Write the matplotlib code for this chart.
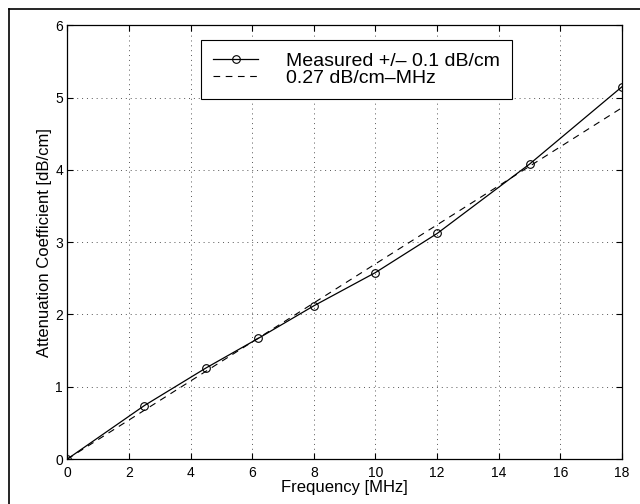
import numpy as np
import matplotlib
matplotlib.use('Agg')
import matplotlib.pyplot as plt
from matplotlib.lines import Line2D

plt.rcParams['font.family'] = ['Liberation Sans', 'DejaVu Sans']

# measured attenuation
freq = [0, 2.5, 4.5, 6.2, 8, 10, 12, 15, 18]
atten = [0, 0.74, 1.26, 1.67, 2.12, 2.58, 3.12, 4.08, 5.15]
# linear fit, 0.27 dB/cm-MHz
slope = 0.27
fit_freq = [0, 18]

fig = plt.figure(figsize=(6.4, 5.04), dpi=100)
ax = fig.add_axes([0.105, 0.089, 0.867, 0.861])

ax.plot(freq, atten, color='black', linewidth=0.9, marker='o', markersize=5.5,
        markerfacecolor='none', markeredgewidth=0.8,
        label='Measured +/\u2013 0.1 dB/cm')
ax.plot(fit_freq, [slope * f for f in fit_freq], color='black', linewidth=0.8,
        linestyle=(0, (6, 5)), label='0.27 dB/cm\u2013MHz')

ax.set_xlim(0, 18)
ax.set_ylim(0, 6)
ax.set_xticks(np.arange(0, 19, 2))
ax.set_yticks(np.arange(0, 7, 1))
ax.grid(True, linestyle=(0, (1, 4)), color='#555555', linewidth=0.7)
ax.tick_params(direction='in', top=True, right=True, length=4, labelsize=10)
ax.tick_params(axis='x', pad=5)
ax.tick_params(axis='y', pad=3)
for s in ax.spines.values():
    s.set_linewidth(0.9)

ax.set_xlabel('Frequency [MHz]', fontsize=12, labelpad=0)
ax.set_ylabel('Attenuation Coefficient [dB/cm]', fontsize=12, labelpad=2)

leg = ax.legend(loc='upper left', bbox_to_anchor=(0.242, 0.965), fontsize=14,
                frameon=True, fancybox=False, edgecolor='black', framealpha=1,
                handlelength=2.3, borderpad=0.6, labelspacing=0.0,
                handletextpad=1.45, borderaxespad=0)
leg.get_frame().set_linewidth(0.8)

# scan border on top and left
fig.add_artist(Line2D([9 / 640, 1], [1 - 9 / 504, 1 - 9 / 504], color='black', linewidth=1.2))
fig.add_artist(Line2D([9 / 640, 9 / 640], [0, 1 - 9 / 504], color='black', linewidth=1.2))

plt.savefig('out.png', dpi=100)
